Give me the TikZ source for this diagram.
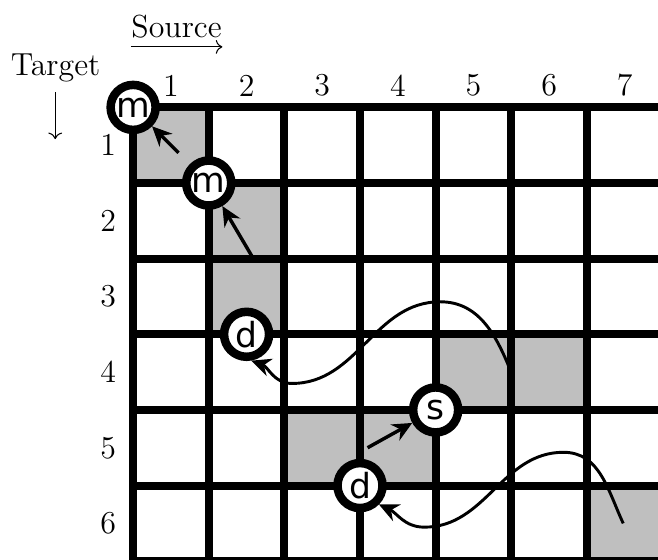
\documentclass[tikz,border=0pt]{standalone}
\usepackage{fontspec}
\usepackage{tikz}
\usetikzlibrary{arrows.meta}
\newfontfamily\opfont{DejaVu Sans}

\begin{document}
\begin{tikzpicture}[
  font=\large,
  cell/.style ={fill=black!25},
  gridl/.style={line width=3pt, line cap=rect},
  op/.style   ={circle, draw, line width=3.2pt, fill=white, inner sep=0pt,
                minimum size=5.95mm, font=\opfont\fontsize{13}{15}\selectfont},
  ar/.style   ={-{Stealth[length=2.6mm,width=2.4mm]}, line width=1.3pt},
  wv/.style   ={ar, line width=1.1pt},
  lbl/.style  ={inner sep=1pt},
]
\useasboundingbox (-1.76,-5.98) rectangle (6.94,1.42);
\clip (-1.76,-5.98) rectangle (6.94,1.42);

% ---- shaded cells ----
\fill[cell] (0,0)  rectangle (1,-1);
\fill[cell] (1,-1) rectangle (2,-3);
\fill[cell] (4,-3) rectangle (6,-4);
\fill[cell] (2,-4) rectangle (4,-5);
\fill[cell] (6,-5) rectangle (7,-6);

% ---- grid ----
\draw[gridl] (0,0) grid (7,-6);

% ---- axis captions ----
\node[lbl] (src) at (0.575,1.07)  {Source};
\node[lbl] (tgt) at (-1.025,0.52) {Target};
\coordinate (srcA) at (-0.03,0.80);
\coordinate (srcB) at (1.18,0.80);
\coordinate (tgtA) at (-1.03,0.20);
\coordinate (tgtB) at (-1.03,-0.42);
\draw[->] (srcA) -- (srcB);
\draw[->] (tgtA) -- (tgtB);

% ---- column numbers (source) ----
\node[lbl] (c1) at (0.5,0.29) {1};
\node[lbl] (c2) at (1.5,0.29) {2};
\node[lbl] (c3) at (2.5,0.29) {3};
\node[lbl] (c4) at (3.5,0.29) {4};
\node[lbl] (c5) at (4.5,0.29) {5};
\node[lbl] (c6) at (5.5,0.29) {6};
\node[lbl] (c7) at (6.5,0.29) {7};

% ---- row numbers (target) ----
\node[lbl] (r1) at (-0.33,-0.5) {1};
\node[lbl] (r2) at (-0.33,-1.5) {2};
\node[lbl] (r3) at (-0.33,-2.5) {3};
\node[lbl] (r4) at (-0.33,-3.5) {4};
\node[lbl] (r5) at (-0.33,-4.5) {5};
\node[lbl] (r6) at (-0.33,-5.5) {6};

% ---- operations ----
\node[op] (m1) at (0,0)    {m};
\node[op] (m2) at (1,-1)   {m};
\node[op] (d1) at (1.5,-3) {d};
\node[op] (s1) at (4,-4)   {s};
\node[op] (d2) at (3,-5)   {d};

% ---- moves ----
\coordinate (a1) at (0.6,-0.6);
\coordinate (a2) at (1.59,-2.0);
\coordinate (a3) at (3.1,-4.5);
\draw[ar] (a1) -- (m1);
\draw[ar] (a2) -- (m2);
\draw[ar] (a3) -- (s1);

% ---- long jumps ----
\coordinate (w1) at (4.99,-3.48);
\coordinate (w2) at (6.48,-5.50);
\draw[wv] (w1) to[out=112,in=0] (4.06,-2.57) to[out=180,in=0] (2.10,-3.65)
          to[out=180,in=-20] (d1.-80);
\draw[wv] (w2) to[out=115,in=0] (5.69,-4.56) to[out=180,in=0] (3.85,-5.55)
          to[out=180,in=-25] (d2.-45);
\end{tikzpicture}
\end{document}
